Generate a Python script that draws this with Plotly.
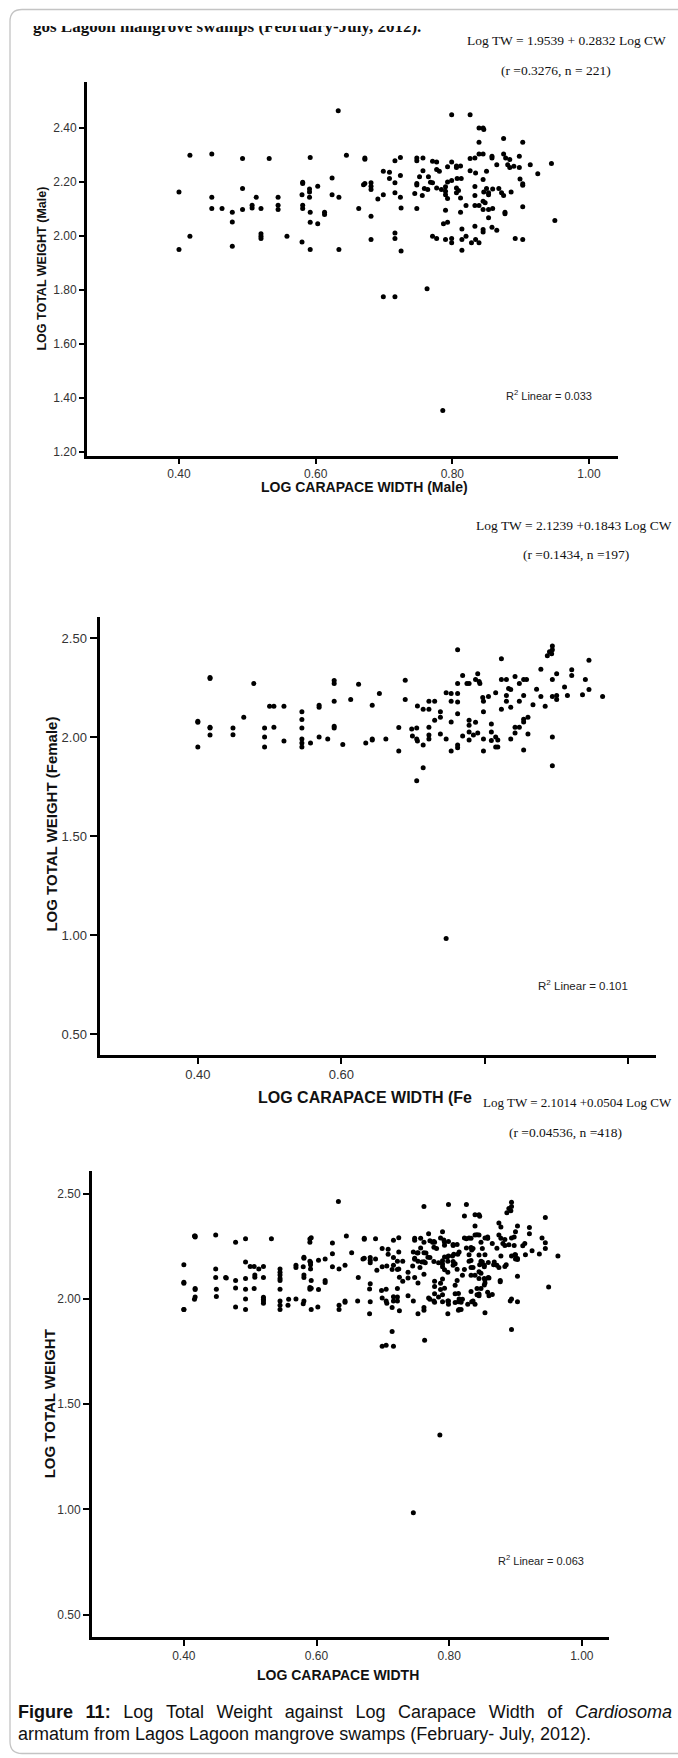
import plotly.graph_objects as go

W, H = 678, 1758

# ---------------- data ----------------
male_cw = [0.633, 0.799, 0.826, 0.839, 0.845, 0.846, 0.839, 0.875, 0.903, 0.416,
           0.448, 0.493, 0.532, 0.592, 0.645, 0.672, 0.672, 0.724, 0.716, 0.748,
           0.748, 0.757, 0.771, 0.777, 0.799, 0.806, 0.806, 0.793, 0.812, 0.826,
           0.833, 0.839, 0.845, 0.858, 0.858, 0.865, 0.875, 0.878, 0.884, 0.881,
           0.884, 0.890, 0.898, 0.898, 0.914, 0.945, 0.925, 0.699, 0.708, 0.757,
           0.777, 0.781, 0.826, 0.834, 0.850, 0.624, 0.724, 0.708, 0.752, 0.765,
           0.748, 0.748, 0.793, 0.799, 0.807, 0.813, 0.771, 0.768, 0.581, 0.581,
           0.591, 0.591, 0.603, 0.672, 0.670, 0.681, 0.681, 0.681, 0.716, 0.716,
           0.699, 0.691, 0.724, 0.759, 0.764, 0.777, 0.784, 0.790, 0.790, 0.806,
           0.809, 0.806, 0.833, 0.845, 0.850, 0.853, 0.853, 0.859, 0.868, 0.872,
           0.886, 0.875, 0.903, 0.903, 0.899, 0.400, 0.493, 0.624, 0.634, 0.580,
           0.591, 0.745, 0.756, 0.793, 0.790, 0.812, 0.833, 0.846, 0.448, 0.513,
           0.545, 0.448, 0.463, 0.478, 0.493, 0.507, 0.507, 0.520, 0.545, 0.545,
           0.581, 0.581, 0.592, 0.613, 0.613, 0.663, 0.681, 0.725, 0.748, 0.790,
           0.812, 0.820, 0.833, 0.839, 0.845, 0.853, 0.859, 0.848, 0.845, 0.877,
           0.877, 0.903, 0.950, 0.853, 0.478, 0.592, 0.603, 0.787, 0.793, 0.814,
           0.833, 0.845, 0.845, 0.858, 0.865, 0.416, 0.520, 0.520, 0.520, 0.558,
           0.716, 0.716, 0.771, 0.777, 0.790, 0.799, 0.799, 0.814, 0.820, 0.828,
           0.834, 0.839, 0.892, 0.903, 0.681, 0.478, 0.580, 0.400, 0.592, 0.634,
           0.725, 0.814, 0.699, 0.716, 0.763, 0.786]
male_tw = [2.464, 2.449, 2.449, 2.400, 2.400, 2.394, 2.347, 2.361, 2.347, 2.299,
           2.304, 2.287, 2.287, 2.291, 2.299, 2.289, 2.284, 2.291, 2.279, 2.289,
           2.279, 2.289, 2.277, 2.274, 2.274, 2.259, 2.254, 2.256, 2.259, 2.287,
           2.289, 2.304, 2.304, 2.295, 2.289, 2.264, 2.304, 2.289, 2.283, 2.264,
           2.254, 2.258, 2.295, 2.254, 2.264, 2.268, 2.230, 2.240, 2.236, 2.242,
           2.246, 2.240, 2.242, 2.233, 2.240, 2.215, 2.224, 2.213, 2.219, 2.219,
           2.194, 2.189, 2.200, 2.205, 2.213, 2.213, 2.197, 2.199, 2.199, 2.194,
           2.174, 2.163, 2.184, 2.194, 2.190, 2.197, 2.184, 2.172, 2.197, 2.160,
           2.153, 2.137, 2.143, 2.176, 2.172, 2.178, 2.172, 2.182, 2.166, 2.178,
           2.168, 2.160, 2.183, 2.209, 2.176, 2.160, 2.153, 2.174, 2.176, 2.160,
           2.163, 2.150, 2.193, 2.188, 2.211, 2.163, 2.176, 2.153, 2.143, 2.153,
           2.143, 2.157, 2.150, 2.139, 2.153, 2.141, 2.150, 2.163, 2.143, 2.143,
           2.143, 2.102, 2.102, 2.088, 2.098, 2.114, 2.104, 2.102, 2.114, 2.098,
           2.114, 2.102, 2.088, 2.088, 2.079, 2.102, 2.073, 2.104, 2.102, 2.095,
           2.088, 2.113, 2.113, 2.113, 2.098, 2.098, 2.102, 2.123, 2.129, 2.088,
           2.082, 2.108, 2.057, 2.067, 2.052, 2.051, 2.045, 2.045, 2.051, 2.026,
           2.036, 2.024, 2.015, 2.032, 2.021, 1.999, 2.008, 1.999, 1.991, 1.999,
           2.011, 1.991, 1.999, 1.991, 1.987, 1.991, 1.975, 1.987, 1.999, 1.975,
           1.987, 1.975, 1.991, 1.987, 1.987, 1.962, 1.978, 1.950, 1.950, 1.950,
           1.944, 1.947, 1.775, 1.775, 1.804, 1.353]

female_cw = [0.400, 0.400, 0.400, 0.417, 0.417, 0.417, 0.417, 0.417, 0.449, 0.449,
             0.464, 0.478, 0.493, 0.493, 0.493, 0.500, 0.506, 0.506, 0.520, 0.520,
             0.545, 0.545, 0.545, 0.545, 0.545, 0.545, 0.557, 0.569, 0.569, 0.569,
             0.581, 0.590, 0.590, 0.590, 0.590, 0.590, 0.602, 0.613, 0.624, 0.634,
             0.643, 0.643, 0.643, 0.653, 0.662, 0.680, 0.680, 0.689, 0.689, 0.698,
             0.699, 0.705, 0.705, 0.706, 0.706, 0.714, 0.714, 0.705, 0.714, 0.722,
             0.722, 0.722, 0.722, 0.722, 0.730, 0.730, 0.738, 0.738, 0.738, 0.746,
             0.746, 0.746, 0.753, 0.753, 0.753, 0.753, 0.762, 0.762, 0.762, 0.762,
             0.762, 0.762, 0.762, 0.769, 0.775, 0.778, 0.769, 0.778, 0.778, 0.778,
             0.778, 0.787, 0.790, 0.792, 0.793, 0.787, 0.790, 0.784, 0.797, 0.798,
             0.798, 0.798, 0.798, 0.805, 0.809, 0.809, 0.809, 0.815, 0.815, 0.818,
             0.818, 0.815, 0.823, 0.823, 0.823, 0.830, 0.830, 0.830, 0.833, 0.836,
             0.836, 0.836, 0.842, 0.842, 0.842, 0.848, 0.848, 0.848, 0.854, 0.854,
             0.854, 0.854, 0.854, 0.858, 0.860, 0.860, 0.867, 0.872, 0.878, 0.878,
             0.884, 0.887, 0.890, 0.893, 0.894, 0.894, 0.894, 0.894, 0.894, 0.894,
             0.900, 0.900, 0.900, 0.911, 0.915, 0.921, 0.921, 0.936, 0.940, 0.945,
             0.945, 0.964]
female_tw = [2.080, 2.075, 1.950, 2.300, 2.295, 2.050, 2.045, 2.010, 2.046, 2.012,
             2.100, 2.270, 2.046, 2.000, 1.950, 2.155, 2.155, 2.050, 2.155, 1.980,
             2.127, 2.088, 2.046, 1.990, 1.970, 1.950, 1.970, 2.160, 2.150, 2.000,
             1.990, 2.285, 2.270, 2.180, 2.055, 2.046, 1.962, 2.190, 2.266, 1.970,
             2.160, 1.990, 1.985, 2.220, 1.990, 2.048, 1.930, 2.287, 2.190, 2.040,
             2.005, 2.046, 1.990, 1.980, 2.157, 1.960, 1.845, 1.780, 2.140, 2.140,
             2.180, 2.050, 2.010, 1.990, 2.180, 2.085, 2.127, 2.100, 2.015, 2.223,
             1.990, 0.984, 2.220, 2.180, 2.076, 1.930, 2.440, 2.270, 2.220, 2.177,
             2.118, 1.960, 1.946, 2.310, 2.270, 2.270, 2.005, 2.085, 2.060, 2.025,
             1.985, 2.290, 2.320, 2.280, 2.270, 2.075, 2.020, 2.010, 2.200, 2.180,
             1.990, 1.930, 2.127, 2.205, 2.066, 2.025, 1.983, 2.000, 1.950, 1.985,
             1.950, 2.223, 2.395, 2.290, 2.140, 2.290, 2.210, 2.180, 2.245, 2.240,
             2.150, 1.990, 2.305, 2.020, 2.050, 2.270, 2.050, 2.180, 2.290, 2.210,
             1.935, 2.076, 2.090, 2.290, 2.100, 2.015, 2.163, 2.241, 2.342, 2.205,
             2.155, 2.410, 2.430, 2.420, 2.460, 2.440, 2.290, 2.205, 2.000, 1.855,
             2.320, 2.210, 2.190, 2.253, 2.210, 2.340, 2.310, 2.214, 2.290, 2.240,
             2.387, 2.205]

# combined sample = male + female
all_cw = male_cw + female_cw
all_tw = male_tw + female_tw

x_ticks = [0.40, 0.60, 0.80, 1.00]
x_tick_labels = ["0.40", "0.60", "0.80", "1.00"]
female_x_ticks = [0.40, 0.60]
female_x_tick_labels = ["0.40", "0.60"]
female_x_unlabelled = [0.80, 1.00]
male_y_ticks = [1.20, 1.40, 1.60, 1.80, 2.00, 2.20, 2.40]
male_y_labels = ["1.20", "1.40", "1.60", "1.80", "2.00", "2.20", "2.40"]
half_y_ticks = [0.50, 1.00, 1.50, 2.00, 2.50]
half_y_labels = ["0.50", "1.00", "1.50", "2.00", "2.50"]

eq_male = ["Log TW = 1.9539 + 0.2832 Log CW", "(r =0.3276, n = 221)"]
eq_female = ["Log TW = 2.1239 +0.1843 Log CW", "(r =0.1434, n =197)"]
eq_all = ["Log TW = 2.1014 +0.0504 Log CW", "(r =0.04536, n =418)"]
r2_labels = ["R<sup>2</sup> Linear = 0.033", "R<sup>2</sup> Linear = 0.101",
             "R<sup>2</sup> Linear = 0.063"]
header_text = "gos Lagoon mangrove swamps (February-July, 2012)."

# ---------------- helpers ----------------
def fx(p):
    return p / W

def fy(p):
    return 1 - p / H

TICK_FONT = "Liberation Sans Narrow, Arial Narrow, Liberation Sans, Arial, sans-serif"
SANS = "Liberation Sans, Arial, Helvetica, sans-serif"
SERIF = "Liberation Serif, Times New Roman, serif"

fig = go.Figure()
mk = dict(symbol="circle", size=5, color="black", line=dict(width=0))
fig.add_trace(go.Scatter(x=male_cw, y=male_tw, mode="markers", marker=mk,
                         xaxis="x", yaxis="y", hoverinfo="skip"))
fig.add_trace(go.Scatter(x=female_cw, y=female_tw, mode="markers", marker=mk,
                         xaxis="x2", yaxis="y2", hoverinfo="skip"))
fig.add_trace(go.Scatter(x=all_cw, y=all_tw, mode="markers", marker=mk,
                         xaxis="x3", yaxis="y3", hoverinfo="skip"))
# header line of the scanned page (its top is hidden below by a white band)
fig.add_trace(go.Scatter(x=[13], y=[28], mode="text", text=[header_text],
                         textposition="middle right", cliponaxis=False,
                         textfont=dict(family=SERIF, size=17, color="#111", weight="bold"),
                         xaxis="x4", yaxis="y4", hoverinfo="skip"))


def xaxis(px0, px1, rng, tickvals, ticktext, ticklen, fsize, anchor, minor=None):
    d = dict(domain=[fx(px0), fx(px1)], range=rng, tickvals=tickvals, ticktext=ticktext,
             ticks="outside", ticklen=ticklen, tickwidth=1.5, tickcolor="black",
             showline=True, linecolor="black", linewidth=3, showgrid=False,
             zeroline=False, anchor=anchor,
             tickfont=dict(family=TICK_FONT, size=fsize, color="#333"))
    if minor is not None:
        d["minor"] = dict(tickvals=minor, ticks="outside", ticklen=ticklen, tickwidth=1.5,
                          tickcolor="black", showgrid=False)
    return d


def yaxis(py0, py1, rng, tickvals, ticktext, ticklen, fsize, anchor):
    return dict(domain=[fy(py1), fy(py0)], range=rng, tickvals=tickvals, ticktext=ticktext,
                ticks="outside", ticklen=ticklen, tickwidth=1.5, tickcolor="black",
                showline=True, linecolor="black", linewidth=3, showgrid=False,
                zeroline=False, anchor=anchor,
                tickfont=dict(family=TICK_FONT, size=fsize, color="#333"))


layout = dict(
    width=W, height=H, margin=dict(l=0, r=0, t=0, b=0),
    paper_bgcolor="white", plot_bgcolor="white", showlegend=False,
    xaxis=xaxis(87, 618, [0.2654, 1.0424], x_ticks, x_tick_labels, 5, 12, "y"),
    yaxis=yaxis(81.7, 456.7, [1.185, 2.572], male_y_ticks, male_y_labels, 5, 12, "x"),
    xaxis2=xaxis(99.5, 655.7, [0.263, 1.038], female_x_ticks, female_x_tick_labels, 6, 13,
                 "y2", minor=female_x_unlabelled),
    yaxis2=yaxis(618, 1056.7, [0.396, 2.606], half_y_ticks, half_y_labels, 7, 13, "x2"),
    xaxis3=xaxis(92, 609, [0.2615, 1.041], x_ticks, x_tick_labels, 6, 12, "y3"),
    yaxis3=yaxis(1172.7, 1639.3, [0.3955, 2.61], half_y_ticks, half_y_labels, 6, 12, "x3"),
    xaxis4=dict(domain=[fx(20), fx(520)], range=[0, 500], visible=False, anchor="y4"),
    yaxis4=dict(domain=[fy(60), fy(20)], range=[60, 20], visible=False, anchor="x4"),
)

ann = []


def add(text, x, y, size, family=SANS, angle=0, xanchor="center", color="#111"):
    ann.append(dict(text=text, x=fx(x), y=fy(y), xref="paper", yref="paper", showarrow=False,
                    font=dict(family=family, size=size, color=color), textangle=angle,
                    xanchor=xanchor, yanchor="middle"))


# axis titles
add("<b>LOG TOTAL WEIGHT (Male)</b>", 42, 269, 12.5, angle=-90)
add("<b>LOG CARAPACE WIDTH (Male)</b>", 364, 488, 14)
add("<b>LOG TOTAL WEIGHT (Female)</b>", 52, 826, 15, angle=-90)
add("<b>LOG CARAPACE WIDTH (Fe</b>", 256, 1099, 16, xanchor="left")
add("<b>LOG TOTAL WEIGHT</b>", 49, 1406.7, 15, angle=-90)
add("<b>LOG CARAPACE WIDTH</b>", 338, 1678, 14)

# regression equations
add(eq_male[0], 566, 41, 13.5, SERIF)
add(eq_male[1], 556, 71, 13.5, SERIF)
add(eq_female[0], 574, 526, 13.5, SERIF)
add(eq_female[1], 576, 555, 13.5, SERIF)
add(eq_all[0], 577, 1104, 13, SERIF)
add(eq_all[1], 565, 1134, 13.5, SERIF)

# R2 labels in data coordinates
for txt, xr, yr, xv, yv, fs in [(r2_labels[0], "x", "y", 0.942, 1.410, 11),
                                (r2_labels[1], "x2", "y2", 0.936, 0.748, 11.5),
                                (r2_labels[2], "x3", "y3", 0.939, 0.757, 11)]:
    ann.append(dict(text=txt, x=xv, y=yv, xref=xr, yref=yr, showarrow=False,
                    font=dict(family=SANS, size=fs, color="#222"),
                    xanchor="center", yanchor="middle"))

# caption (first line justified to the full width)
GAP = "\u2002\u2009"
cap1 = GAP.join(["<b>Figure", "11:</b>", "Log", "Total", "Weight", "against", "Log",
                 "Carapace", "Width", "of", "<i>Cardiosoma</i>"])
cap2 = "armatum from Lagos Lagoon mangrove swamps (February- July, 2012)."
add(cap1, 16, 1715, 18, xanchor="left")
add(cap2, 16, 1737, 18, xanchor="left")

layout["annotations"] = ann

# page border (rounded corners on the left)
r = 12
path = (f"M {fx(680)},{fy(9.5)} L {fx(10 + r)},{fy(9.5)} "
        f"Q {fx(10)},{fy(9.5)} {fx(10)},{fy(9.5 + r)} "
        f"L {fx(10)},{fy(1756.5 - r)} Q {fx(10)},{fy(1756.5)} {fx(10 + r)},{fy(1756.5)} "
        f"L {fx(680)},{fy(1756.5)}")
layout["shapes"] = [
    # white band hiding the upper part of the cropped header line
    dict(type="rect", x0=fx(12), x1=fx(455), y0=fy(26), y1=fy(0), xref="paper", yref="paper",
         fillcolor="white", line=dict(width=0), layer="above"),
    dict(type="path", path=path, xref="paper", yref="paper",
         line=dict(color="#c4c4c4", width=1.3), layer="above"),
]

fig.update_layout(**layout)
fig.write_html("out.html")
